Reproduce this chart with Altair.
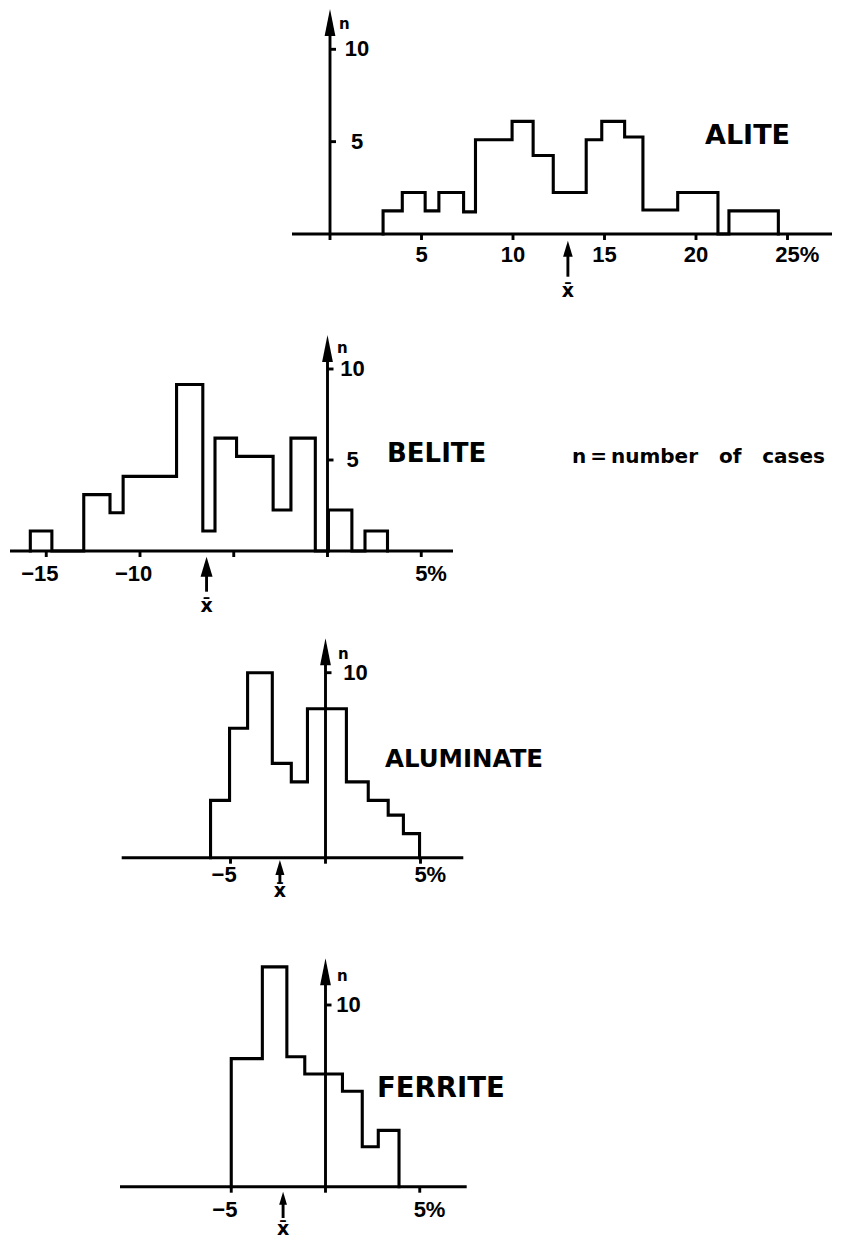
import altair as alt
import pandas as pd

# ---------------- data ----------------
alite_edges = [2.9, 3.95, 5.2, 5.95, 7.3, 7.95, 9.95, 11.1, 12.2, 14.0, 14.85, 16.1, 17.1, 19.0, 21.2, 21.8, 24.5]
alite_counts = [1.25, 2.25, 1.25, 2.25, 1.2, 5.1, 6.1, 4.25, 2.25, 5.1, 6.1, 5.25, 1.3, 2.25, 0, 1.25]
alite_mean = 13.0
alite_xticks = [5, 10, 15, 20, 25]
alite_xlabels = ["5", "10", "15", "20", "25%"]
alite_yticks = [5, 10]
alite_ylabels = ["5", "10"]

belite_edges = [-15.85, -14.7, -13.0, -11.6, -10.9, -8.05, -6.65, -6.0, -4.85, -2.9, -1.95, -0.65, 0.05, 1.3, 2.0, 3.2]
belite_counts = [1.1, 0, 3.1, 2.1, 4.1, 9.15, 1.1, 6.2, 5.2, 2.25, 6.2, 0, 2.25, 0, 1.1]
belite_mean = -6.45
belite_xticks = [-15, -10, -5, 5]
belite_xlabels = ["\u221215", "\u221210", "", "5%"]
belite_yticks = [5, 10]
belite_ylabels = ["5", "10"]

aluminate_edges = [-6.05, -5.05, -4.1, -2.8, -1.8, -0.95, 1.1, 2.25, 3.3, 4.1, 4.95]
aluminate_counts = [3.1, 7.0, 10.0, 5.1, 4.1, 8.05, 4.1, 3.1, 2.3, 1.3]
aluminate_mean = -2.4
aluminate_xticks = [-5, 5]
aluminate_xlabels = ["\u22125", "5%"]
aluminate_yticks = [10]
aluminate_ylabels = ["10"]

ferrite_edges = [-5.0, -3.35, -2.05, -1.1, 0.9, 1.95, 2.8, 3.9]
ferrite_counts = [7.05, 12.1, 7.15, 6.2, 5.25, 2.2, 3.1]
ferrite_mean = -2.25
ferrite_xticks = [-5, 5]
ferrite_xlabels = ["\u22125", "5%"]
ferrite_yticks = [10]
ferrite_ylabels = ["10"]

legend_text = "n\u2009=\u2009number\u00a0\u00a0\u00a0of\u00a0\u00a0\u00a0cases"

# ---------------- layout (pixels) ----------------
W, H = 841, 1245
panels = [
    dict(name="ALITE", edges=alite_edges, counts=alite_counts, mean=alite_mean,
         xticks=alite_xticks, xlabels=alite_xlabels, yticks=alite_yticks, ylabels=alite_ylabels,
         x0=330, kx=18.3, base=234, ky=18.47, axis_l=292, axis_r=832, tip=9,
         ylab_dx=27, xlab_dy=21, n_pos=(339, 29), name_pos=(705, 144), name_size=27,
         arrow=(6.7, 16, 42.7, 57)),
    dict(name="BELITE", edges=belite_edges, counts=belite_counts, mean=belite_mean,
         xticks=belite_xticks, xlabels=belite_xlabels, yticks=belite_yticks, ylabels=belite_ylabels,
         x0=327.5, kx=18.75, base=551, ky=18.2, axis_l=10, axis_r=453, tip=335,
         ylab_dx=25, xlab_dy=23, n_pos=(337, 353), name_pos=(387, 462), name_size=26,
         arrow=(5.7, 20, 40.7, 55)),
    dict(name="ALUMINATE", edges=aluminate_edges, counts=aluminate_counts, mean=aluminate_mean,
         xticks=aluminate_xticks, xlabels=aluminate_xlabels, yticks=aluminate_yticks, ylabels=aluminate_ylabels,
         x0=325.5, kx=19.0, base=857.7, ky=18.5, axis_l=121.7, axis_r=463.3, tip=638.3,
         ylab_dx=30, xlab_dy=17, n_pos=(338, 659), name_pos=(385, 767), name_size=24.5,
         arrow=(2.3, 15, 25.6, 33.3)),
    dict(name="FERRITE", edges=ferrite_edges, counts=ferrite_counts, mean=ferrite_mean,
         xticks=ferrite_xticks, xlabels=ferrite_xlabels, yticks=ferrite_yticks, ylabels=ferrite_ylabels,
         x0=325.5, kx=18.85, base=1186.7, ky=18.17, axis_l=120, axis_r=466.7, tip=958.3,
         ylab_dx=23, xlab_dy=23, n_pos=(337, 981), name_pos=(377, 1097), name_size=27.5,
         arrow=(5.0, 13, 31.3, 42.3)),
]

LINE_W = 3.1
AXIS_W = 2.9
TICK_FONT = "Liberation Sans"
NAME_FONT = "DejaVu Sans"
TICK_SIZE = 22
AXIS_HEAD = "M0,-1L0.4,1L-0.4,1Z"
MEAN_HEAD = "M0,-1L0.6,1L-0.6,1Z"


def build_panel(p, extra_text=None):
    kx, ky, x0, base = p["kx"], p["ky"], p["x0"], p["base"]
    fx = lambda px: (px - x0) / kx          # pixel -> data (x)
    fy = lambda py: (base - py) / ky        # pixel -> data (y)
    xs = alt.Scale(domain=[fx(0), fx(W)], nice=False, zero=False)
    ys = alt.Scale(domain=[fy(H), fy(0)], nice=False, zero=False)

    def enc(**kw):
        out = {}
        for k, v in kw.items():
            if k == "x":
                out[k] = alt.X(v, type="quantitative", scale=xs, axis=None)
            elif k == "y":
                out[k] = alt.Y(v, type="quantitative", scale=ys, axis=None)
            elif k == "x2":
                out[k] = alt.X2(v)
            elif k == "y2":
                out[k] = alt.Y2(v)
        return out

    layers = []

    # histogram outline
    e, c = p["edges"], p["counts"]
    pts = [(e[0], 0.0)]
    for i, v in enumerate(c):
        pts.append((e[i], v))
        pts.append((e[i + 1], v))
    pts.append((e[-1], 0.0))
    hist = pd.DataFrame({"x": [q[0] for q in pts], "y": [q[1] for q in pts], "o": range(len(pts))})
    layers.append(
        alt.Chart(hist).mark_line(color="black", strokeWidth=LINE_W, strokeJoin="miter", strokeCap="square")
        .encode(**enc(x="x", y="y"), order=alt.Order("o:Q"))
    )

    # axis lines, ticks, mean-arrow shaft
    tip_off, head_len, shaft_end, xbar_off = p["arrow"]
    rules = [
        (fx(p["axis_l"]), 0, fx(p["axis_r"]), 0),                    # x axis
        (0, fy(base + 6), 0, fy(p["tip"] + 10)),                    # y axis
        (p["mean"], fy(base + tip_off + head_len * 0.7), p["mean"], fy(base + shaft_end)),
    ]
    for t in p["xticks"]:
        rules.append((t, 0, t, fy(base + 6)))
    for t in p["yticks"]:
        rules.append((0, t, fx(x0 + 6), t))
    rdf = pd.DataFrame(rules, columns=["x", "y", "x2", "y2"])
    layers.append(
        alt.Chart(rdf).mark_rule(color="black", strokeWidth=AXIS_W, strokeCap="butt")
        .encode(**enc(x="x", y="y", x2="x2", y2="y2"))
    )

    # arrow heads
    ah = 27
    adf = pd.DataFrame({"x": [0], "y": [fy(p["tip"] + ah / 2)]})
    layers.append(
        alt.Chart(adf).mark_point(shape=AXIS_HEAD, filled=True, color="black", opacity=1,
                                  size=ah * ah, strokeWidth=0)
        .encode(**enc(x="x", y="y"))
    )
    mdf = pd.DataFrame({"x": [p["mean"]], "y": [fy(base + tip_off + head_len / 2)]})
    layers.append(
        alt.Chart(mdf).mark_point(shape=MEAN_HEAD, filled=True, color="black", opacity=1,
                                  size=head_len * head_len, strokeWidth=0)
        .encode(**enc(x="x", y="y"))
    )

    # x̄ label
    xb = pd.DataFrame({"x": [p["mean"]], "y": [fy(base + xbar_off)], "t": ["x\u0304"]})
    layers.append(
        alt.Chart(xb).mark_text(font=NAME_FONT, fontWeight="bold", fontSize=19, baseline="middle",
                                align="center", color="black")
        .encode(**enc(x="x", y="y"), text="t:N")
    )

    # x tick labels (number centred on the tick; sign / percent hang outside)
    ly = fy(base + p["xlab_dy"])
    groups = {"plain": [], "neg": [], "pct": []}
    for t, lab in zip(p["xticks"], p["xlabels"]):
        if not lab:
            continue
        kind = "neg" if lab.startswith("\u2212") else ("pct" if lab.endswith("%") else "plain")
        groups[kind].append((t, ly, lab))
    shifts = {"plain": 0, "neg": -0.584 * TICK_SIZE / 2, "pct": 0.889 * TICK_SIZE / 2}
    for kind, rows in groups.items():
        if not rows:
            continue
        df = pd.DataFrame(rows, columns=["x", "y", "t"])
        layers.append(
            alt.Chart(df).mark_text(font=TICK_FONT, fontWeight="bold", fontSize=TICK_SIZE,
                                    baseline="middle", align="center", dx=shifts[kind], color="black")
            .encode(**enc(x="x", y="y"), text="t:N")
        )

    # y tick labels
    ydf = pd.DataFrame({"x": [fx(x0 + p["ylab_dx"])] * len(p["yticks"]),
                        "y": p["yticks"], "t": p["ylabels"]})
    layers.append(
        alt.Chart(ydf).mark_text(font=TICK_FONT, fontWeight="bold", fontSize=TICK_SIZE,
                                 baseline="middle", align="center", color="black")
        .encode(**enc(x="x", y="y"), text="t:N")
    )

    # "n" at the y-axis arrow
    ndf = pd.DataFrame({"x": [fx(p["n_pos"][0])], "y": [fy(p["n_pos"][1])], "t": ["n"]})
    layers.append(
        alt.Chart(ndf).mark_text(font=NAME_FONT, fontWeight="bold", fontSize=15,
                                 baseline="alphabetic", align="left", color="black")
        .encode(**enc(x="x", y="y"), text="t:N")
    )

    # phase name
    nm = pd.DataFrame({"x": [fx(p["name_pos"][0])], "y": [fy(p["name_pos"][1])], "t": [p["name"]]})
    layers.append(
        alt.Chart(nm).mark_text(font=NAME_FONT, fontWeight="bold", fontSize=p["name_size"],
                                baseline="alphabetic", align="left", color="black")
        .encode(**enc(x="x", y="y"), text="t:N")
    )

    if extra_text is not None:
        tx, ty, txt, size = extra_text
        ed = pd.DataFrame({"x": [fx(tx)], "y": [fy(ty)], "t": [txt]})
        layers.append(
            alt.Chart(ed).mark_text(font=NAME_FONT, fontWeight="bold", fontSize=size,
                                    baseline="alphabetic", align="left", color="black")
            .encode(**enc(x="x", y="y"), text="t:N")
        )
    return layers


all_layers = []
for i, p in enumerate(panels):
    extra = (572, 463, legend_text, 20) if p["name"] == "BELITE" else None
    all_layers += build_panel(p, extra)

chart = (
    alt.layer(*all_layers)
    .resolve_scale(x="independent", y="independent")
    .properties(width=W, height=H, padding=0, background="white",
                autosize=alt.AutoSizeParams(type="none"))
    .configure_view(stroke=None)
)

chart.save("out.html", embed_options={"renderer": "svg", "actions": False})
